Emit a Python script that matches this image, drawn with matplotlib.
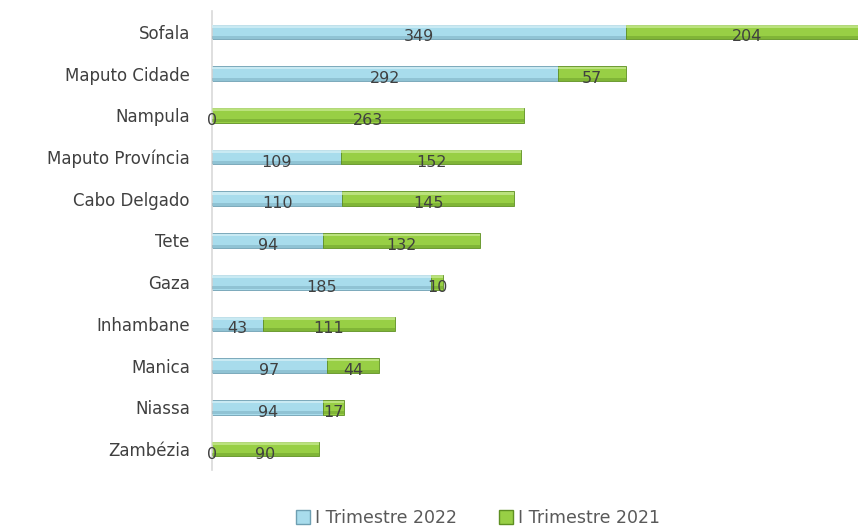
import matplotlib.pyplot as plt
from matplotlib.patches import Patch

provincias = ["Sofala", "Maputo Cidade", "Nampula", "Maputo Província", "Cabo Delgado",
              "Tete", "Gaza", "Inhambane", "Manica", "Niassa", "Zambézia"]
t2022 = [349, 292, 0, 109, 110, 94, 185, 43, 97, 94, 0]
t2021 = [204, 57, 263, 152, 145, 132, 10, 111, 44, 17, 90]

azul, azul_esc, azul_cla = "#A8DCEC", "#6E9FB2", "#D2EEF6"
verde, verde_esc, verde_cla = "#98CF45", "#5E8F22", "#C4E88C"

fig = plt.figure(figsize=(8.58, 5.27), dpi=100)
ax = fig.add_axes([212 / 858, 57 / 527, 646 / 858, 459 / 527])

y = list(range(len(provincias)))
h = 0.35

# barras com efeito de relevo simples
for vals, left, c, c_esc, c_cla in [(t2022, [0] * len(y), azul, azul_esc, azul_cla),
                                     (t2021, t2022, verde, verde_esc, verde_cla)]:
    ax.barh(y, vals, left=left, height=h, color=c, edgecolor=c_esc, linewidth=0.6, zorder=2)
    ax.barh([v + h * 0.38 for v in y], vals, left=left, height=h * 0.2, color=c_esc,
            linewidth=0, alpha=0.4, zorder=3)
    ax.barh([v - h * 0.38 for v in y], vals, left=left, height=h * 0.18, color=c_cla,
            linewidth=0, alpha=0.8, zorder=3)

for i in y:
    ax.text(t2022[i] / 2, i + 0.12, str(t2022[i]), ha="center", va="center",
            fontsize=11.5, color="#404040", zorder=4)
    ax.text(t2022[i] + t2021[i] / 2, i + 0.12, str(t2021[i]), ha="center", va="center",
            fontsize=11.5, color="#404040", zorder=4)

ax.set_yticks(y)
ax.set_yticklabels(provincias, fontsize=12, color="#404040")
ax.set_ylim(len(y) - 0.5, -0.5)
ax.set_xlim(0, 545)
ax.set_xticks([])
ax.tick_params(axis="y", length=0, pad=16)
for s in ["top", "right", "bottom"]:
    ax.spines[s].set_visible(False)
ax.spines["left"].set_color("#D9D9D9")
ax.spines["left"].set_linewidth(1.2)

handles = [Patch(facecolor=azul, edgecolor=azul_esc, label="I Trimestre 2022"),
           Patch(facecolor=verde, edgecolor=verde_esc, label="I Trimestre 2021")]
fig.legend(handles=handles, loc="center", bbox_to_anchor=(478 / 858, 1 - 518 / 527),
           ncol=2, frameon=False, fontsize=12.5, handlelength=0.8, handleheight=0.8,
           handletextpad=0.3, columnspacing=2.4, labelcolor="#595959")

fig.savefig("out.png", dpi=100)
